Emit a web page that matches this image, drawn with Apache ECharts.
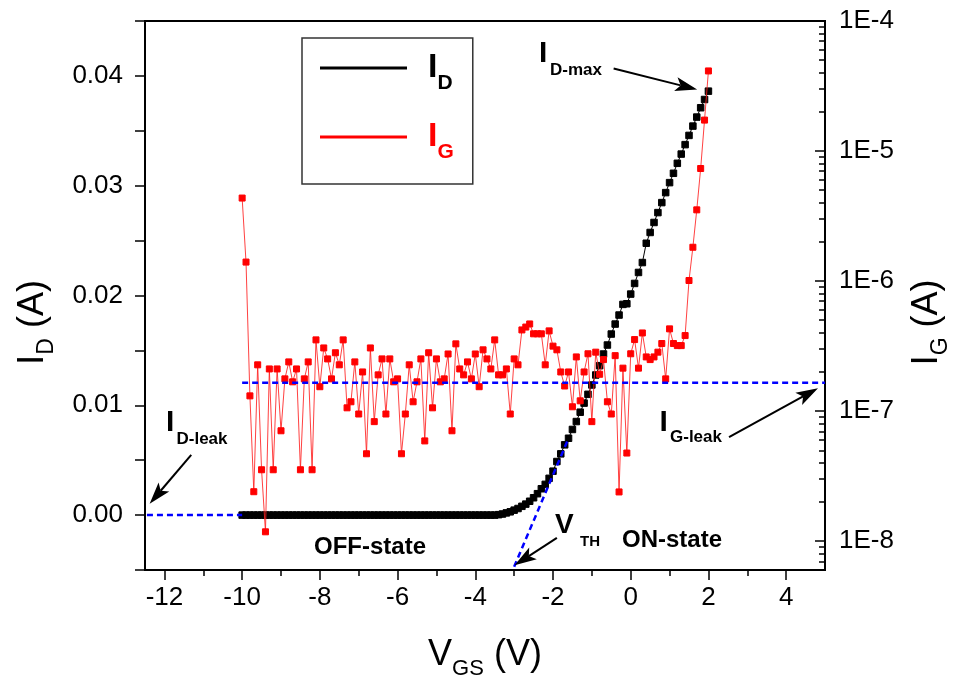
<!DOCTYPE html>
<html>
<head>
<meta charset="utf-8">
<script src="https://cdn.jsdelivr.net/npm/echarts@6/dist/echarts.min.js"></script>
<style>
html,body{margin:0;padding:0;background:#fff;}
#chart{width:960px;height:685px;}
</style>
</head>
<body>
<div id="chart"></div>
<script>
// Gate voltage sweep (V)
const vgs = [
-10.0,-9.9,-9.8,-9.7,-9.6,-9.5,-9.4,-9.3,-9.2,-9.1,
-9.0,-8.9,-8.8,-8.7,-8.6,-8.5,-8.4,-8.3,-8.2,-8.1,
-8.0,-7.9,-7.8,-7.7,-7.6,-7.5,-7.4,-7.3,-7.2,-7.1,
-7.0,-6.9,-6.8,-6.7,-6.6,-6.5,-6.4,-6.3,-6.2,-6.1,
-6.0,-5.9,-5.8,-5.7,-5.6,-5.5,-5.4,-5.3,-5.2,-5.1,
-5.0,-4.9,-4.8,-4.7,-4.6,-4.5,-4.4,-4.3,-4.2,-4.1,
-4.0,-3.9,-3.8,-3.7,-3.6,-3.5,-3.4,-3.3,-3.2,-3.1,
-3.0,-2.9,-2.8,-2.7,-2.6,-2.5,-2.4,-2.3,-2.2,-2.1,
-2.0,-1.9,-1.8,-1.7,-1.6,-1.5,-1.4,-1.3,-1.2,-1.1,
-1.0,-0.9,-0.8,-0.7,-0.6,-0.5,-0.4,-0.3,-0.2,-0.1,
0.0,0.1,0.2,0.3,0.4,0.5,0.6,0.7,0.8,0.9,
1.0,1.1,1.2,1.3,1.4,1.5,1.6,1.7,1.8,1.9,
2.0
];
// Drain current I_D (A)
const idValues = [
0,0,0,0,0,0,0,0,0,0,
0,0,0,0,0,0,0,0,0,0,
0,0,0,0,0,0,0,0,0,0,
0,0,0,0,0,0,0,0,0,0,
0,0,0,0,0,0,0,0,0,0,
0,0,0,0,0,0,0,0,0,0,
0,0,0,0,0,0,0.00004,0.0001,0.0002,0.0003,
0.00045,0.0006,0.0008,0.0010,0.00126,0.00158,0.00195,0.0024,0.0028,0.00335,
0.0040,0.00488,0.00558,0.0064,0.0070,0.0078,0.00852,0.00937,0.0102,0.0110,
0.01185,0.01276,0.01361,0.01467,0.01549,0.01649,0.0174,0.01822,0.01919,0.01925,
0.02013,0.0211,0.0221,0.0230,0.02476,0.02574,0.02665,0.02755,0.02846,0.02937,
0.03028,0.03113,0.03204,0.03288,0.03374,0.03458,0.03543,0.03625,0.0371,0.03785,
0.03861
];
// Gate leakage current I_G (A)
const igValues = [
4.35e-6,1.40e-6,1.31e-7,2.40e-8,2.27e-7,3.54e-8,1.18e-8,2.11e-7,3.54e-8,2.11e-7,
7.06e-8,1.77e-7,2.39e-7,1.68e-7,2.11e-7,3.54e-8,1.77e-7,2.39e-7,3.54e-8,3.53e-7,
1.54e-7,3.06e-7,2.52e-7,1.77e-7,2.81e-7,2.27e-7,3.53e-7,1.06e-7,1.18e-7,2.39e-7,
9.5e-8,2.0e-7,4.7e-8,3.06e-7,8.3e-8,1.90e-7,2.52e-7,9.5e-8,2.52e-7,1.68e-7,
1.77e-7,4.7e-8,9.5e-8,2.27e-7,1.18e-7,1.68e-7,2.52e-7,5.9e-8,2.81e-7,1.06e-7,
2.52e-7,1.68e-7,1.77e-7,2.75e-7,7.06e-8,3.29e-7,2.11e-7,1.90e-7,2.39e-7,1.77e-7,
2.75e-7,1.54e-7,2.96e-7,2.52e-7,2.11e-7,3.53e-7,1.90e-7,1.90e-7,2.11e-7,9.5e-8,
2.52e-7,2.27e-7,4.21e-7,4.43e-7,4.68e-7,3.93e-7,3.93e-7,3.93e-7,2.27e-7,4.14e-7,
3.16e-7,2.96e-7,2.0e-7,1.56e-7,2.0e-7,1.08e-7,2.61e-7,1.20e-7,2.0e-7,2.76e-7,
8.3e-8,2.84e-7,1.92e-7,2.49e-7,1.18e-7,9.5e-8,2.67e-7,2.39e-8,2.14e-7,4.76e-8,
2.76e-7,3.55e-7,2.14e-7,3.99e-7,2.61e-7,2.49e-7,2.61e-7,2.84e-7,3.31e-7,1.77e-7,
4.29e-7,3.31e-7,3.19e-7,3.19e-7,3.81e-7,1.01e-6,1.82e-6,3.53e-6,7.34e-6,1.73e-5,
4.13e-5
];
// Axis ticks
const xTickValues = [-12,-10,-8,-6,-4,-2,0,2,4];
const xMinorTickValues = [-11,-9,-7,-5,-3,-1,1,3];
const idLabelValues = [0,0.01,0.02,0.03,0.04];
const igMajorTicks = [1e-8,1e-7,1e-6,1e-5,1e-4];
const igMinorTicks = [7e-9,8e-9,9e-9,
  2e-8,3e-8,4e-8,5e-8,6e-8,7e-8,8e-8,9e-8,
  2e-7,3e-7,4e-7,5e-7,6e-7,7e-7,8e-7,9e-7,
  2e-6,3e-6,4e-6,5e-6,6e-6,7e-6,8e-6,9e-6,
  2e-5,3e-5,4e-5,5e-5,6e-5,7e-5,8e-5,9e-5];
// Reference (dashed) lines
const idLeakLine = [[-12.45,0],[-10,0]];
const igLeakLine = [[-10,1.65e-7],[5,1.65e-7]];
const vthTangent = [[-3.0,-0.0047],[-1.6,0.0070]];
// Annotation arrows in (V_GS, I_D) coordinates: [from, to]
const arrows = [
  [[-0.44,0.04067],[1.71,0.03876]],
  [[-11.31,0.00549],[-12.38,0.00104]],
  [[-1.90,-0.00208],[-2.99,-0.00457]],
  [[2.53,0.0071],[4.82,0.01155]]
];

const FONT = "'Liberation Sans', Arial, Helvetica, sans-serif";
const chart = echarts.init(document.getElementById('chart'), null, {renderer:'canvas'});

const axisLineStyle = {color:'#000', width:2};
const tickStyle = {color:'#000', width:1.5};
function titleRich(){
  return {
    v:{fontSize:37, lineHeight:50, fontFamily:FONT, color:'#000'},
    s:{fontSize:23, lineHeight:22, verticalAlign:'bottom', fontFamily:FONT, color:'#000'},
    t:{fontSize:36, lineHeight:50, fontFamily:FONT, color:'#000', padding:[0,54,0,0]}
  };
}

const option = {
  animation:false,
  backgroundColor:'#fff',
  grid:{left:145, right:134, top:21, bottom:114, show:true, borderColor:'#000', borderWidth:2, backgroundColor:'transparent'},
  legend:{
    orient:'vertical', left:302, top:38,
    padding:[13,19,21,18], itemGap:26,
    itemWidth:87, itemHeight:3, icon:'rect',
    itemStyle:{borderWidth:0},
    borderColor:'#333', borderWidth:1.5,
    selectedMode:false,
    data:['ID','IG'],
    formatter:function(name){ return name==='ID' ? '{i|I}{s|D}' : '{ir|I}{sr|G}'; },
    textStyle:{
      fontFamily:FONT,
      rich:{
        i:{fontSize:34, fontWeight:'bold', color:'#000', lineHeight:52, padding:[0,0,0,16], fontFamily:FONT},
        s:{fontSize:21, fontWeight:'bold', color:'#000', lineHeight:14, verticalAlign:'bottom', fontFamily:FONT},
        ir:{fontSize:34, fontWeight:'bold', color:'#f00', lineHeight:52, padding:[0,0,0,16], fontFamily:FONT},
        sr:{fontSize:21, fontWeight:'bold', color:'#f00', lineHeight:14, verticalAlign:'bottom', fontFamily:FONT}
      }
    }
  },
  xAxis:[
    {
      type:'value', min:-12.5, max:5, position:'bottom',
      axisLine:{show:true, onZero:false, lineStyle:axisLineStyle},
      axisTick:{show:true, inside:false, length:10, customValues:xTickValues, lineStyle:tickStyle},
      axisLabel:{customValues:xTickValues, fontSize:26, color:'#000', margin:15, fontFamily:FONT},
      splitLine:{show:false},
      name:'{v|V}{s|GS}{t| (V)}', nameLocation:'middle', nameGap:60,
      nameTextStyle:{fontFamily:FONT, color:'#000', rich:{
        v:{fontSize:36, lineHeight:50, fontFamily:FONT},
        s:{fontSize:22, lineHeight:20, verticalAlign:'bottom', fontFamily:FONT},
        t:{fontSize:36, lineHeight:50, fontFamily:FONT}
      }}
    },
    {
      type:'value', min:-12.5, max:5, position:'bottom',
      axisLine:{show:false, onZero:false},
      axisTick:{show:true, inside:false, length:6, customValues:xMinorTickValues, lineStyle:tickStyle},
      axisLabel:{show:false},
      splitLine:{show:false}
    }
  ],
  yAxis:[
    {
      type:'value', min:-0.005, max:0.045, interval:0.005, position:'left',
      axisLine:{show:true, onZero:false, lineStyle:axisLineStyle},
      axisTick:{show:true, inside:false, length:10, lineStyle:tickStyle},
      axisLabel:{customValues:idLabelValues, formatter:function(v){return v.toFixed(2);}, fontSize:26, color:'#000', margin:22, fontFamily:FONT},
      splitLine:{show:false},
      name:'{v|I}{s|D}{t| (A)}', nameLocation:'middle', nameRotate:90, nameGap:87,
      nameTextStyle:{fontFamily:FONT, color:'#000', rich:titleRich()}
    },
    {
      type:'log', logBase:10, min:6e-9, max:1e-4, position:'right',
      axisLine:{show:true, onZero:false, lineStyle:axisLineStyle},
      axisTick:{show:true, inside:true, length:10, customValues:igMajorTicks, lineStyle:tickStyle},
      axisLabel:{customValues:igMajorTicks, formatter:function(v){return '1E' + Math.round(Math.log10(v));}, fontSize:26, color:'#000', margin:14, fontFamily:FONT},
      splitLine:{show:false},
      name:'{v|I}{s|G}{t| (A)}', nameLocation:'middle', nameRotate:90, nameGap:77,
      nameTextStyle:{fontFamily:FONT, color:'#000', rich:titleRich()}
    },
    {
      type:'log', logBase:10, min:6e-9, max:1e-4, position:'right',
      axisLine:{show:false, onZero:false},
      axisTick:{show:true, inside:true, length:6, customValues:igMinorTicks, lineStyle:tickStyle},
      axisLabel:{show:false},
      splitLine:{show:false}
    }
  ],
  series:[
    {
      name:'ID', type:'line', xAxisIndex:0, yAxisIndex:0,
      data:vgs.map(function(v,i){return [v, idValues[i]];}),
      symbol:'rect', symbolSize:6.5, showAllSymbol:true,
      itemStyle:{color:'#000', borderColor:'#000', borderWidth:1},
      lineStyle:{color:'#000', width:1},
      z:2
    },
    {
      name:'IG', type:'line', xAxisIndex:0, yAxisIndex:1,
      data:vgs.map(function(v,i){return [v, igValues[i]];}),
      symbol:'rect', symbolSize:6, showAllSymbol:true,
      itemStyle:{color:'#ff0000', borderColor:'#ff0000', borderWidth:1},
      lineStyle:{color:'#ff2020', width:1, opacity:0.85},
      z:3
    },
    {
      name:'ID-leak', type:'line', xAxisIndex:0, yAxisIndex:0, data:idLeakLine,
      symbol:'none', lineStyle:{color:'#0000ff', width:2.5, type:[6,4]}, z:4, silent:true
    },
    {
      name:'IG-leak', type:'line', xAxisIndex:0, yAxisIndex:1, data:igLeakLine,
      symbol:'none', lineStyle:{color:'#0000ff', width:2.5, type:[6,4]}, z:4, silent:true
    },
    {
      name:'VTH', type:'line', xAxisIndex:0, yAxisIndex:0, data:vthTangent,
      symbol:'none', lineStyle:{color:'#0000ff', width:2.5, type:[6,4]}, z:4, silent:true
    }
  ]
};
chart.setOption(option);

// annotation texts
function txt(x, y, text, size, color){
  return {type:'text', x:x, y:y, z:100, silent:true,
    style:{text:text, fontSize:size, fontWeight:'bold', fontFamily:FONT, fill:color||'#000',
      textAlign:'left', textVerticalAlign:'middle', verticalAlign:'middle'}};
}
const graphics = [
  txt(539, 54, 'I', 30), txt(550, 70.5, 'D-max', 17),
  txt(166, 422.5, 'I', 30), txt(176.5, 439, 'D-leak', 17),
  txt(555, 525, 'V', 28), txt(580, 541.7, 'TH', 15),
  txt(659.5, 422.5, 'I', 30), txt(670, 437.5, 'G-leak', 17),
  txt(622, 540.5, 'ON-state', 24),
  txt(314, 547, 'OFF-state', 24)
];
// arrows from data coordinates
arrows.forEach(function(a){
  const p0 = chart.convertToPixel({xAxisIndex:0, yAxisIndex:0}, a[0]);
  const p1 = chart.convertToPixel({xAxisIndex:0, yAxisIndex:0}, a[1]);
  const dx = p1[0]-p0[0], dy = p1[1]-p0[1];
  const len = Math.sqrt(dx*dx+dy*dy);
  const ux = dx/len, uy = dy/len, nx = -uy, ny = ux;
  const L = 22, W = 7, N = 5;
  const bx = p1[0]-L*ux, by = p1[1]-L*uy;
  const mx = p1[0]-(L-N)*ux, my = p1[1]-(L-N)*uy;
  graphics.push({type:'line', z:100, silent:true,
    shape:{x1:p0[0], y1:p0[1], x2:mx, y2:my}, style:{stroke:'#000', lineWidth:2}});
  graphics.push({type:'polygon', z:100, silent:true,
    shape:{points:[[p1[0],p1[1]],[bx+W*nx,by+W*ny],[mx,my],[bx-W*nx,by-W*ny]]},
    style:{fill:'#000'}});
});
chart.setOption({graphic:graphics});
</script>
</body>
</html>
